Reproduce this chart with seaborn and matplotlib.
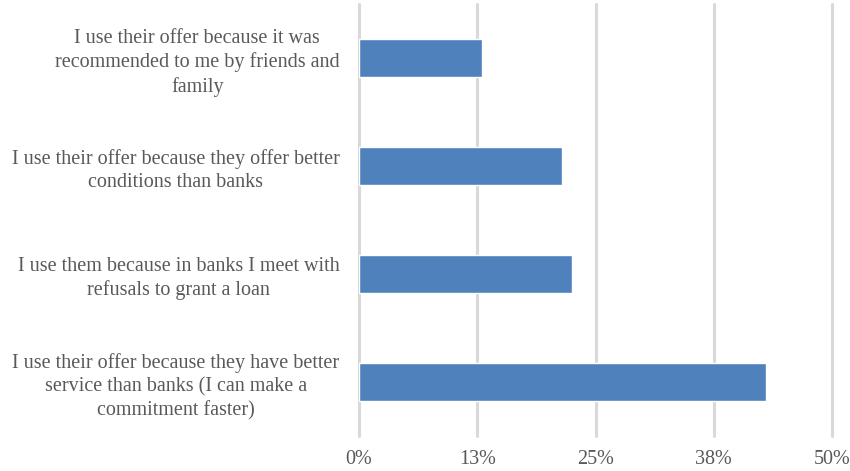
import numpy as np
import pandas as pd
import matplotlib
matplotlib.use('Agg')
import matplotlib.pyplot as plt
import seaborn as sns

reasons = ['I use their offer because it was\nrecommended to me by friends and\nfamily',
           'I use their offer because they offer better\nconditions than banks',
           'I use them because in banks I meet with\nrefusals to grant a loan',
           'I use their offer because they have better\nservice than banks (I can make a\ncommitment faster)']
shares = [13.0, 21.5, 22.5, 43.0]
ticks = [0, 12.5, 25, 37.5, 50]
tick_labels = ['0%', '13%', '25%', '38%', '50%']

sns.set_style('white')
plt.rcParams['font.family'] = ['Liberation Serif', 'DejaVu Serif']

df = pd.DataFrame({'reason': reasons, 'share': shares})

fig = plt.figure(figsize=(8.5, 4.71), dpi=100)
ax = fig.add_axes([0.4224, 0.0743, 0.5564, 0.9172])
sns.barplot(data=df, x='share', y='reason', orient='h', color='#4F81BD',
            saturation=1, width=0.35, ax=ax)

ax.set_xlim(0, 50)
ax.set_xticks(ticks)
ax.set_xticklabels(tick_labels)
ax.set_xlabel('')
ax.set_ylabel('')
ax.set_axisbelow(True)
ax.grid(axis='x', color='#d9d9d9', linewidth=2.2)
for gl in ax.get_xgridlines():
    gl.set_clip_on(False)
for s in ax.spines.values():
    s.set_visible(False)
ax.tick_params(axis='x', length=0, pad=10, labelsize=14.5, labelcolor='#595959')
ax.tick_params(axis='y', length=0, pad=14, labelsize=14.5, labelcolor='#595959')
for lab in ax.get_yticklabels():
    lab.set_multialignment('center')
    lab.set_linespacing(1.3)

fig.savefig('out.png', dpi=100)
